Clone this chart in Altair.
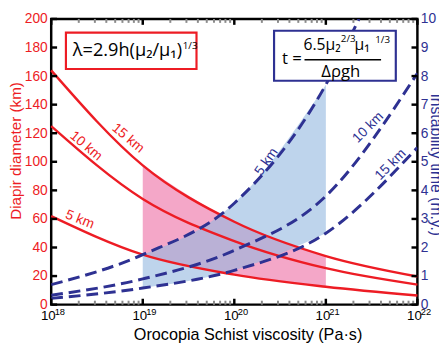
import altair as alt
import pandas as pd

# ---------------- data ----------------
visc = [1e18, 1e19, 1e20, 1e21, 1e22]            # Orocopia Schist viscosity (Pa s)
diam_5 = [62, 35, 21, 12.5, 6.4]                  # diapir diameter (km), h = 5 km
diam_10 = [125, 74, 44.5, 25.5, 14]               # h = 10 km
diam_15 = [164, 97.5, 58, 34, 19.7]               # h = 15 km

visc_t5 = [1e18, 1e19, 1e20, 1e21, 2.3e21]
time_5 = [0.70, 1.75, 3.55, 7.7, 10]              # instability time (m.y.), h = 5 km
time_10 = [0.33, 0.90, 1.9, 3.8, 8.1]             # h = 10 km
time_15 = [0.22, 0.58, 1.2, 2.5, 5.5]             # h = 15 km

shade_visc = [1e19, 1e20, 1e21]
shade_d_lo = [35, 21, 12.5]
shade_d_hi = [97.5, 58, 34]
shade_t_lo = [0.58, 1.2, 2.5]
shade_t_hi = [1.75, 3.55, 7.7]

x_major = [1e18, 1e19, 1e20, 1e21, 1e22]
x_bases = ["10", "10", "10", "10", "10"]
x_exponents = ["18", "19", "20", "21", "22"]
x_minor = [m * 10.0 ** e for e in range(18, 22) for m in range(2, 10)]
diam_ticks = list(range(0, 201, 20))
time_ticks = list(range(0, 11))

# ---------------- styling ----------------
RED = "#ed1c24"
BLUE = "#2e3192"
PINK = "#f4a7c8"
LBLUE = "#93b7df"
F = "Liberation Sans"
EQF = "Open Sans"
W, H = 373, 291

xscale = alt.Scale(type="log", domain=[1e18, 1e22], nice=False)
xaxis = alt.Axis(values=x_major, labels=False, ticks=False, tickSize=0, domain=False, grid=False,
                 title="Orocopia Schist viscosity (Pa·s)", titleFont=F, titleFontSize=16.5,
                 titleFontWeight="normal", titleColor="black", titleX=200, titleY=36,
                 titleBaseline="alphabetic", titleAlign="center")
dscale = alt.Scale(domain=[0, 200], nice=False)
tscale = alt.Scale(domain=[0, 10], nice=False)

left_axis = alt.Axis(values=diam_ticks, ticks=False, tickSize=0, domain=False, grid=False,
                     labelColor=RED, labelFont=F, labelFontSize=14, labelPadding=4,
                     labelFlush=False, labelOverlap=False,
                     title="Diapir diameter (km)", titleColor=RED, titleFont=F, titleFontSize=15.5,
                     titleFontWeight="normal", titleX=-36.5, titleY=134, titleAngle=270,
                     titleBaseline="middle", titleAlign="center")
right_axis = alt.Axis(orient="right", values=time_ticks, ticks=False, tickSize=0, domain=False,
                      grid=False, labelColor=BLUE, labelFont=F, labelFontSize=14, labelPadding=3,
                      labelFlush=False, labelOverlap=False,
                      title="Instability time (m.y.)", titleColor=BLUE, titleFont=F,
                      titleFontSize=16, titleFontWeight="normal", titleX=13, titleY=148,
                      titleAngle=90, titleBaseline="alphabetic", titleAlign="center")


def X(field):
    return alt.X(field, type="quantitative", scale=xscale, axis=xaxis)


red_df = pd.DataFrame({"visc": visc * 3, "diam": diam_5 + diam_10 + diam_15,
                       "h": ["5"] * 5 + ["10"] * 5 + ["15"] * 5})
blue_df = pd.DataFrame({"visc": visc_t5 + visc + visc, "t": time_5 + time_10 + time_15,
                        "h": ["5"] * 5 + ["10"] * 5 + ["15"] * 5})
pink_df = pd.DataFrame({"visc": shade_visc, "lo": shade_d_lo, "hi": shade_d_hi})
barea_df = pd.DataFrame({"visc": shade_visc, "lo": shade_t_lo, "hi": shade_t_hi})

pink = alt.Chart(pink_df).mark_area(color=PINK, interpolate="monotone").encode(
    x=X("visc"), y=alt.Y("hi:Q", scale=dscale, axis=None), y2="lo:Q")
barea = alt.Chart(barea_df).mark_area(color=LBLUE, opacity=0.6, interpolate="monotone").encode(
    x=X("visc"), y=alt.Y("hi:Q", scale=tscale, axis=None), y2="lo:Q")
red = alt.Chart(red_df).mark_line(color=RED, strokeWidth=2.4, interpolate="monotone").encode(
    x=X("visc"), y=alt.Y("diam:Q", scale=dscale, axis=left_axis), detail="h:N")
blue = alt.Chart(blue_df).mark_line(color=BLUE, strokeWidth=3, strokeDash=[12, 6],
                                    interpolate="monotone", clip=True).encode(
    x=X("visc"), y=alt.Y("t:Q", scale=tscale, axis=right_axis), detail="h:N")

# x tick labels: "10" with a raised exponent
lab_df = pd.DataFrame({"v": x_major, "b": x_bases, "e": x_exponents})
bases = alt.Chart(lab_df).mark_text(font=F, fontSize=13.5, color="black", align="center",
                                    baseline="alphabetic", dx=-3).encode(
    x=X("v"), y=alt.value(H + 15.5), text="b:N")
exps = alt.Chart(lab_df).mark_text(font=F, fontSize=9.5, color="black", align="left",
                                   baseline="alphabetic", dx=3.5).encode(
    x=X("v"), y=alt.value(H + 11), text="e:N")

# inward ticks
xmaj_df = pd.DataFrame({"v": x_major})
xmin_df = pd.DataFrame({"v": x_minor})
xt = []
for df, col, sw, ln in [(xmin_df, "#8a8a8a", 2, 4), (xmaj_df, "black", 2.5, 6)]:
    xt.append(alt.Chart(df).mark_rule(color=col, strokeWidth=sw).encode(
        x=X("v"), y=alt.value(H), y2=alt.value(H - ln)))
    xt.append(alt.Chart(df).mark_rule(color=col, strokeWidth=sw).encode(
        x=X("v"), y=alt.value(0), y2=alt.value(ln)))
dt = alt.Chart(pd.DataFrame({"v": diam_ticks})).mark_rule(color="black", strokeWidth=2.5).encode(
    y=alt.Y("v:Q", scale=dscale, axis=None), x=alt.value(0), x2=alt.value(6))
tt = alt.Chart(pd.DataFrame({"v": time_ticks})).mark_rule(color="black", strokeWidth=2.5).encode(
    y=alt.Y("v:Q", scale=tscale, axis=None), x=alt.value(W - 6), x2=alt.value(W))


def curve_label(txt, xv, yv, ang, color, scale):
    d = pd.DataFrame({"visc": [xv], "val": [yv], "lab": [txt]})
    return alt.Chart(d).mark_text(angle=ang, color=color, font=F, fontSize=14,
                                  align="center", baseline="middle").encode(
        x=X("visc"), y=alt.Y("val:Q", scale=scale, axis=None), text="lab:N")


lbls = [
    curve_label("15 km", 6.9e18, 116.5, 40, RED, dscale),
    curve_label("10 km", 2.4e18, 111.0, 40, RED, dscale),
    curve_label("5 km", 2.05e18, 59.5, 22, RED, dscale),
    curve_label("5 km", 2.25e20, 5.0, 305, BLUE, tscale),
    curve_label("10 km", 2.9e21, 6.2, 315, BLUE, tscale),
    curve_label("15 km", 5.1e21, 4.9, 315, BLUE, tscale),
]

one = pd.DataFrame({"a": [0]})
box_red = alt.Chart(one).mark_rect(fill="white", stroke=RED, strokeWidth=2.2).encode(
    x=alt.value(15), x2=alt.value(148), y=alt.value(14), y2=alt.value(51))
box_blue = alt.Chart(one).mark_rect(fill="white", stroke=BLUE, strokeWidth=2.2).encode(
    x=alt.value(227), x2=alt.value(351), y=alt.value(12), y2=alt.value(63))


def txt(s, x, y, size=17, align="left"):
    return alt.Chart(one).mark_text(text=s, font=EQF, fontSize=size, color="black",
                                    align=align, baseline="alphabetic").encode(
        x=alt.value(x), y=alt.value(y))


eq = [
    txt("λ=2.9h(μ₂/μ₁)", 22, 38, 18.5),
    txt("1/3", 134, 31, 10),
    txt("t =", 235, 46),
    txt("6.5μ₂", 257, 32, 16),
    txt("2/3", 295, 23, 10),
    txt("μ₁", 309, 32, 16),
    txt("1/3", 330, 24, 10),
    txt("Δρgh", 295, 59, 17, "center"),
    alt.Chart(one).mark_rule(color="black", strokeWidth=1.5).encode(
        x=alt.value(258), x2=alt.value(336), y=alt.value(41.5)),
]

chart = alt.layer(pink, barea, red, blue, *xt, dt, tt, bases, exps, *lbls, box_red, box_blue, *eq).resolve_scale(
    y="independent").properties(
    width=W, height=H,
    padding={"left": 44, "top": 8, "right": 22, "bottom": 40},
    autosize=alt.AutoSizeParams(type="none"),
).configure_view(stroke="black", strokeWidth=2.5)

chart.save("out.html", embed_options={"renderer": "svg", "actions": False})
